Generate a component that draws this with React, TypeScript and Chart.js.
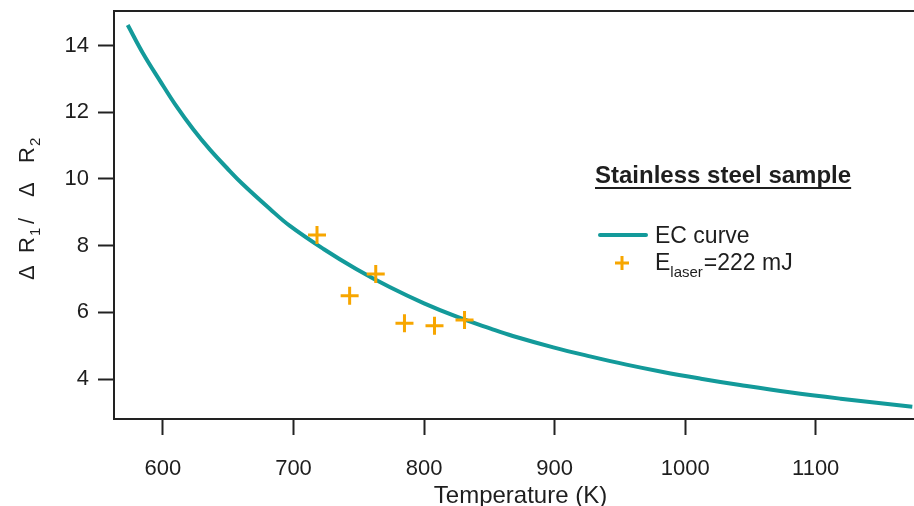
import React, { useEffect, useRef } from 'react';
import { Chart, registerables } from 'chart.js';

Chart.register(...registerables);

// EC curve
const curveTemps = [573, 585, 598, 610, 623, 636, 649, 661, 682, 697, 723, 748, 774, 800, 825, 851, 868, 899, 927, 955, 983, 1012, 1042, 1080, 1119, 1174];
const curveRatio = [14.62, 13.75, 12.93, 12.2, 11.5, 10.88, 10.33, 9.85, 9.1, 8.6, 7.9, 7.3, 6.75, 6.27, 5.87, 5.51, 5.29, 4.95, 4.68, 4.43, 4.21, 4.01, 3.82, 3.6, 3.41, 3.17];
// Measured points, E_laser = 222 mJ
const laserTemps = [718, 743, 763, 785, 808, 831];
const laserRatio = [8.32, 6.5, 7.15, 5.67, 5.6, 5.77];
// Axis ticks
const xTicks = [600, 700, 800, 900, 1000, 1100];
const yTicks = [4, 6, 8, 10, 12, 14];
const xTitle = 'Temperature (K)';

const FONT = "'Liberation Sans', Arial, sans-serif";
const TEXT = '#1e1e1e';
const TEAL = '#139a9a';
const ORANGE = '#f7a600';

const decorPlugin = {
  id: 'decor',
  afterDraw(chart: any) {
    const ctx = chart.ctx as CanvasRenderingContext2D;
    const a = chart.chartArea;
    ctx.save();
    // top frame line
    ctx.strokeStyle = '#222';
    ctx.lineWidth = 2;
    ctx.beginPath();
    ctx.moveTo(a.left - 1, a.top);
    ctx.lineTo(chart.width, a.top);
    ctx.stroke();

    // x-axis title
    ctx.fillStyle = TEXT;
    ctx.textBaseline = 'alphabetic';
    ctx.textAlign = 'center';
    ctx.font = `24px ${FONT}`;
    ctx.fillText(xTitle, 520.5, 503);

    // legend title
    ctx.textAlign = 'left';
    ctx.font = `bold 24px ${FONT}`;
    const title = 'Stainless steel sample';
    const tw = ctx.measureText(title).width;
    ctx.fillText(title, 595, 183);
    ctx.lineWidth = 2;
    ctx.strokeStyle = TEXT;
    ctx.beginPath();
    ctx.moveTo(595, 188);
    ctx.lineTo(595 + tw, 188);
    ctx.stroke();

    // legend entry 1
    ctx.strokeStyle = TEAL;
    ctx.lineWidth = 4;
    ctx.lineCap = 'round';
    ctx.beginPath();
    ctx.moveTo(600, 235);
    ctx.lineTo(646, 235);
    ctx.stroke();
    ctx.fillStyle = TEXT;
    ctx.font = `23px ${FONT}`;
    ctx.fillText('EC curve', 655, 243);

    // legend entry 2
    ctx.strokeStyle = ORANGE;
    ctx.lineWidth = 3;
    ctx.lineCap = 'butt';
    ctx.beginPath();
    ctx.moveTo(615, 263);
    ctx.lineTo(629, 263);
    ctx.moveTo(622, 256);
    ctx.lineTo(622, 270);
    ctx.stroke();
    let x = 655;
    ctx.font = `23px ${FONT}`;
    ctx.fillText('E', x, 270);
    x += ctx.measureText('E').width;
    ctx.font = `15px ${FONT}`;
    ctx.fillText('laser', x, 277);
    x += ctx.measureText('laser').width + 1;
    ctx.font = `23px ${FONT}`;
    ctx.fillText('=222 mJ', x, 270);

    // y-axis title (rotated, with subscripts)
    ctx.translate(34, 280);
    ctx.rotate(-Math.PI / 2);
    const parts: [string, number, boolean][] = [
      ['Δ', 0, false],
      ['R', 27, false],
      ['1', 44, true],
      ['/', 56, false],
      ['Δ', 83, false],
      ['R', 117, false],
      ['2', 134, true],
    ];
    for (const [t, off, sub] of parts) {
      ctx.font = sub ? `15px ${FONT}` : `22px ${FONT}`;
      ctx.fillText(t, off, sub ? 6 : 0);
    }
    ctx.restore();
  },
};

export default function App() {
  const ref = useRef<HTMLCanvasElement>(null);
  useEffect(() => {
    if (!ref.current) return;
    const chart = new Chart(ref.current, {
      type: 'scatter',
      data: {
        datasets: [
          {
            label: 'EC curve',
            data: curveTemps.map((t, i) => ({ x: t, y: curveRatio[i] })),
            showLine: true,
            borderColor: TEAL,
            borderWidth: 4,
            pointRadius: 0,
            tension: 0.4,
            order: 2,
          },
          {
            label: 'Elaser=222 mJ',
            data: laserTemps.map((t, i) => ({ x: t, y: laserRatio[i] })),
            showLine: false,
            pointStyle: 'cross',
            pointRadius: 9,
            borderWidth: 3,
            borderColor: ORANGE,
            backgroundColor: ORANGE,
            order: 1,
          },
        ],
      } as any,
      options: {
        responsive: false,
        animation: false,
        layout: { autoPadding: false, padding: { top: 11, right: 0, left: 0, bottom: 0 } },
        plugins: { legend: { display: false }, tooltip: { enabled: false } },
        scales: {
          x: {
            type: 'linear',
            min: 562.5,
            max: 1175.3,
            afterBuildTicks: (s: any) => {
              s.ticks = xTicks.map((v) => ({ value: v }));
            },
            afterFit: (s: any) => {
              s.height = 87;
              s.paddingLeft = 0;
              s.paddingRight = 0;
            },
            ticks: {
              font: { size: 22, family: FONT },
              color: TEXT,
              padding: 21,
              autoSkip: false,
              maxRotation: 0,
              callback: (v: any) => String(v),
            },
            grid: { drawOnChartArea: false, tickLength: 16, tickWidth: 2, tickColor: '#222' },
            border: { display: true, width: 2, color: '#222' },
            title: { display: false },
          },
          y: {
            type: 'linear',
            min: 2.8,
            max: 15.04,
            afterBuildTicks: (s: any) => {
              s.ticks = yTicks.map((v) => ({ value: v }));
            },
            afterFit: (s: any) => {
              s.width = 114;
              s.paddingTop = 0;
              s.paddingBottom = 0;
            },
            ticks: { font: { size: 22, family: FONT }, color: TEXT, padding: 9, autoSkip: false, callback: (v: any) => String(v) },
            grid: { drawOnChartArea: false, tickLength: 16, tickWidth: 2, tickColor: '#222' },
            border: { display: true, width: 2, color: '#222' },
          },
        },
      } as any,
      plugins: [decorPlugin],
    });
    return () => chart.destroy();
  }, []);
  return (
    <div style={{ position: 'absolute', left: 0, top: 0, width: 914, height: 506, background: '#fff' }}>
      <canvas ref={ref} width={914} height={506} style={{ display: 'block' }} />
    </div>
  );
}
